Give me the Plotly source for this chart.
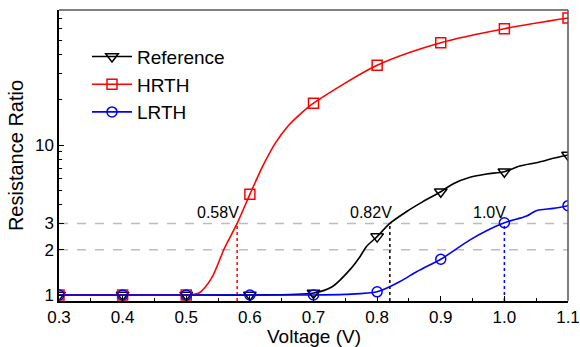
import numpy as np
import plotly.graph_objects as go

# ---- data ----
volt_markers = [0.3, 0.4, 0.5, 0.6, 0.7, 0.8, 0.9, 1.0, 1.1]
ref_markers = [1.0, 1.0, 1.0, 1.0, 1.03, 2.45, 4.88, 6.64, 8.58]
hrth_markers = [1.0, 1.0, 1.0, 4.69, 19.0, 34.0, 48.1, 59.6, 70.2]
lrth_markers = [1.0, 1.0, 1.0, 1.0, 1.0, 1.05, 1.73, 3.03, 3.94]

# curve samples (denser than the markers)
ref_curve_x = [0.3, 0.4, 0.5, 0.6, 0.7, 0.73, 0.757, 0.773, 0.783, 0.8, 0.82, 0.846, 0.872, 0.9,
               0.919, 0.946, 0.972, 1.0, 1.024, 1.05, 1.077, 1.1]
ref_curve_y = [1.0, 1.0, 1.0, 1.0, 1.03, 1.14, 1.47, 1.8, 2.1, 2.45, 3.0, 3.59, 4.19, 4.88,
               5.5, 6.09, 6.41, 6.64, 7.24, 7.62, 8.15, 8.58]
hrth_curve_x = [0.3, 0.4, 0.5, 0.52, 0.54, 0.56, 0.58, 0.6, 0.62, 0.64, 0.66, 0.68, 0.7,
                0.8, 0.9, 1.0, 1.1]
hrth_curve_y = [1.0, 1.0, 1.0, 1.03, 1.3, 2.05, 3.0, 4.69, 7.2, 10.3, 13.4, 16.2, 19.0,
                34.0, 48.1, 59.6, 70.2]
lrth_curve_x = [0.3, 0.4, 0.5, 0.6, 0.7, 0.75, 0.8, 0.836, 0.862, 0.888, 0.9, 0.946, 0.972,
                1.0, 1.035, 1.05, 1.077, 1.1]
lrth_curve_y = [1.0, 1.0, 1.0, 1.0, 1.0, 1.01, 1.05, 1.23, 1.43, 1.63, 1.73, 2.33, 2.68,
                3.03, 3.36, 3.65, 3.78, 3.94]

thresholds = [0.58, 0.82, 1.0]
threshold_labels = ["0.58V", "0.82V", "1.0V"]
threshold_level = 3
guide_levels = [2, 3]

y_tickvals = [1, 2, 3, 10]
y_minor = [4, 5, 6, 7, 8, 9, 20, 30, 40, 50, 60, 70, 80]
x_tickvals = [0.3, 0.4, 0.5, 0.6, 0.7, 0.8, 0.9, 1.0, 1.1]
x_ticktext = ["0.3", "0.4", "0.5", "0.6", "0.7", "0.8", "0.9", "1.0", "1.1"]
x_title = "Voltage (V)"
y_title = "Resistance Ratio"

Y_BOTTOM = 0.912
X_MIN, X_MAX = 0.3, 1.1

series = [
    ("Reference", "black", "triangle-down-open", 11, ref_curve_x, ref_curve_y, ref_markers),
    ("HRTH", "red", "square-open", 10, hrth_curve_x, hrth_curve_y, hrth_markers),
    ("LRTH", "blue", "circle-open", 10, lrth_curve_x, lrth_curve_y, lrth_markers),
]
thr_colors = ["red", "black", "blue"]

FONT = "Liberation Sans, Arial, sans-serif"

fig = go.Figure()

# guide lines
for lv in guide_levels:
    fig.add_trace(go.Scatter(x=[X_MIN, X_MAX], y=[lv, lv], mode="lines",
                             line=dict(color="#bdbdbd", width=1.5, dash="dash"),
                             showlegend=False, hoverinfo="skip"))
for xv, c in zip(thresholds, thr_colors):
    fig.add_trace(go.Scatter(x=[xv, xv], y=[Y_BOTTOM, threshold_level], mode="lines",
                             line=dict(color=c, width=1.5, dash="dot"),
                             showlegend=False, hoverinfo="skip"))

for name, color, sym, size, cx, cy, my in series:
    fig.add_trace(go.Scatter(x=cx, y=cy, mode="lines", line=dict(color=color, width=1.6, shape="spline", smoothing=0.8),
                             showlegend=False, hoverinfo="skip"))
for name, color, sym, size, cx, cy, my in series:
    fig.add_trace(go.Scatter(x=volt_markers, y=my, mode="markers",
                             marker=dict(symbol=sym, size=size, color=color, line=dict(width=1.5, color=color)),
                             showlegend=False))
for name, color, sym, size, cx, cy, my in series:
    fig.add_trace(go.Scatter(x=[None], y=[None], mode="lines+markers", name=name,
                             line=dict(color=color, width=1.6),
                             marker=dict(symbol=sym, size=size, color=color, line=dict(width=1.5, color=color))))

for xv, lab in zip(thresholds, threshold_labels):
    fig.add_annotation(x=xv, y=np.log10(threshold_level), text=lab, showarrow=False,
                       xanchor="right", yanchor="bottom", xshift=4, yshift=0,
                       font=dict(size=16, color="black", family=FONT))

# x axis title as an annotation below the tick labels
fig.add_annotation(x=0.5, y=-0.122, xref="paper", yref="paper", text=x_title, showarrow=False,
                   xanchor="center", yanchor="middle", font=dict(size=19, color="black", family=FONT))

# top / right frame
fig.add_shape(type="line", xref="paper", yref="paper", x0=0, x1=1, y0=1, y1=1,
              line=dict(color="#555555", width=1.5))
fig.add_shape(type="line", xref="paper", yref="paper", x0=1, x1=1, y0=0, y1=1,
              line=dict(color="#555555", width=1.5))

fig.update_layout(
    width=580, height=347,
    margin=dict(l=59, r=12, t=10, b=46, autoexpand=False),
    plot_bgcolor="white", paper_bgcolor="white",
    font=dict(family=FONT, size=17, color="black"),
    legend=dict(x=0.055, y=0.905, xanchor="left", yanchor="top", bgcolor="rgba(0,0,0,0)",
                font=dict(size=19), itemwidth=40, tracegroupgap=0),
    xaxis=dict(range=[X_MIN, X_MAX], showline=True, linecolor="black", linewidth=1.5,
               ticks="inside", ticklen=5, tickwidth=1, tickcolor="black", automargin=False,
               tickvals=x_tickvals, ticktext=x_ticktext, showgrid=False, zeroline=False,
               minor=dict(dtick=0.05, tick0=0.35, ticks="inside", ticklen=3, tickcolor="black")),
    yaxis=dict(type="log", range=[np.log10(Y_BOTTOM), 1.9], showline=True, linecolor="black",
               linewidth=1.5, ticks="inside", ticklen=5, tickwidth=1, tickcolor="black",
               tickvals=y_tickvals, ticktext=[str(v) for v in y_tickvals], showgrid=False,
               zeroline=False, automargin=False,
               minor=dict(tickvals=y_minor, ticks="inside", ticklen=3, tickcolor="black"),
               title=dict(text=y_title, font=dict(size=20), standoff=6)),
)

fig.write_html("out.html")
